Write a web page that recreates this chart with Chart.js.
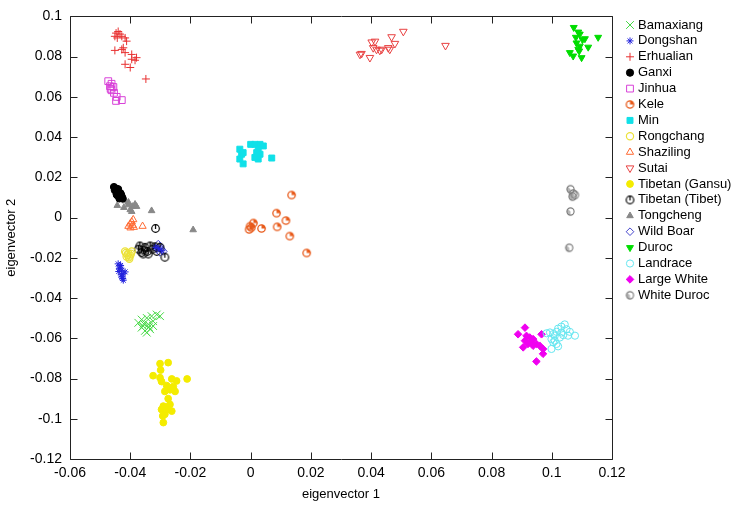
<!DOCTYPE html>
<html><head><meta charset="utf-8">
<script src="https://cdn.jsdelivr.net/npm/chart.js@4/dist/chart.umd.min.js"></script>
<style>html,body{margin:0;padding:0;background:#fff}#wrap{width:738px;height:506px;position:relative}</style>
</head><body><div id="wrap"><canvas id="c" width="738" height="506"></canvas></div>
<script>
// ---- data (eigenvector 1, eigenvector 2) ----
const bamaxiang = [[-0.0373,-0.0523],[-0.0362,-0.0507],[-0.0345,-0.0499],[-0.0329,-0.049],[-0.0312,-0.0482],[-0.0301,-0.049],[-0.0357,-0.0539],[-0.034,-0.0531],[-0.0324,-0.0539],[-0.0351,-0.0563],[-0.0334,-0.0555],[-0.0362,-0.0547],[-0.0324,-0.0515],[-0.0345,-0.0572],[-0.0355,-0.0528],[-0.0338,-0.0545]];
const dongshan = [[-0.044,-0.023],[-0.0434,-0.0246],[-0.0428,-0.0262],[-0.0423,-0.0279],[-0.0428,-0.0295],[-0.0423,-0.0311],[-0.0436,-0.0254],[-0.0417,-0.027],[-0.0432,-0.0238],[-0.0425,-0.0303],[-0.0438,-0.0268],[-0.043,-0.0285],[-0.0305,-0.0155],[-0.0295,-0.0165],[-0.0315,-0.0148]];
const erhualian = [[-0.0447,0.0917],[-0.044,0.0925],[-0.0434,0.0912],[-0.0451,0.0901],[-0.0443,0.0893],[-0.0428,0.0901],[-0.0417,0.0893],[-0.0412,0.0877],[-0.0423,0.0844],[-0.0428,0.0836],[-0.0451,0.0831],[-0.0417,0.082],[-0.0395,0.0811],[-0.0379,0.0795],[-0.0395,0.0787],[-0.0384,0.0782],[-0.0417,0.0762],[-0.04,0.0746],[-0.0348,0.0689]];
const ganxi = [[-0.0454,0.0152],[-0.0447,0.0144],[-0.0445,0.0131],[-0.044,0.012],[-0.0443,0.0111],[-0.0434,0.0108],[-0.0428,0.0103],[-0.0436,0.0095],[-0.0451,0.0136],[-0.0432,0.012],[-0.0425,0.0095],[-0.044,0.0141],[-0.0438,0.0126],[-0.0445,0.0115],[-0.043,0.0112]];
const jinhua = [[-0.0473,0.0678],[-0.0462,0.0665],[-0.0467,0.0653],[-0.0456,0.0649],[-0.0462,0.0633],[-0.0454,0.062],[-0.0445,0.06],[-0.0447,0.058],[-0.0428,0.0584],[-0.0465,0.064]];
const kele = [[0.0136,0.0112],[0.0086,0.0022],[0.0117,-0.0015],[0.0009,-0.0027],[-0.0002,-0.0043],[-0.0005,-0.0059],[0.0036,-0.0054],[0.0088,-0.0046],[0.013,-0.0092],[0.0186,-0.0176],[0.0002,-0.005]];
const minPig = [[-0.0036,0.034],[-0.003,0.0315],[-0.0036,0.0291],[-0.0025,0.0267],[0.0,0.0364],[0.0014,0.0364],[0.0031,0.0364],[0.0042,0.0356],[0.0025,0.034],[0.0031,0.0315],[0.0025,0.0291],[0.0014,0.0299],[0.007,0.0296],[-0.0025,0.0323],[0.002,0.0323]];
const rongchang = [[-0.0417,-0.0168],[-0.0406,-0.0178],[-0.0412,-0.0194],[-0.04,-0.0189],[-0.0395,-0.0168],[-0.0403,-0.0205],[-0.0409,-0.0185],[-0.0398,-0.018],[-0.0414,-0.0176],[-0.0404,-0.0197]];
const shaziling = [[-0.0406,-0.0043],[-0.04,-0.0031],[-0.0395,-0.0021],[-0.039,-0.001],[-0.0399,-0.0051],[-0.0392,-0.0038],[-0.0388,-0.0048],[-0.0359,-0.0043]];
const sutai = [[0.0363,0.0811],[0.0368,0.0815],[0.0396,0.0795],[0.0402,0.0872],[0.0413,0.0876],[0.0407,0.0844],[0.0418,0.0836],[0.0429,0.0831],[0.0435,0.0836],[0.0457,0.0844],[0.0462,0.0836],[0.0468,0.0898],[0.0479,0.0865],[0.0507,0.0925],[0.0647,0.0855]];
const tibetanGansu = [[-0.0301,-0.0726],[-0.0274,-0.0721],[-0.0299,-0.0758],[-0.0324,-0.0786],[-0.0301,-0.0796],[-0.0262,-0.0802],[-0.0246,-0.0812],[-0.0211,-0.0802],[-0.0296,-0.0815],[-0.0279,-0.0835],[-0.0257,-0.084],[-0.0268,-0.0856],[-0.0251,-0.0864],[-0.0285,-0.0864],[-0.0274,-0.09],[-0.029,-0.0937],[-0.0279,-0.0942],[-0.0268,-0.0929],[-0.0296,-0.0954],[-0.0262,-0.0962],[-0.0292,-0.0986],[-0.029,-0.1019],[-0.0285,-0.0978],[-0.0274,-0.0954]];
const tibetanTibet = [[-0.0316,-0.0054],[-0.0368,-0.0141],[-0.0373,-0.0157],[-0.0359,-0.0161],[-0.0351,-0.0148],[-0.0343,-0.0168],[-0.0334,-0.0141],[-0.0325,-0.0157],[-0.0318,-0.0145],[-0.0312,-0.0168],[-0.0301,-0.0148],[-0.0285,-0.0197],[-0.0357,-0.0181],[-0.034,-0.0181],[-0.0362,-0.0173]];
const tongcheng = [[-0.0329,0.0034],[-0.0191,-0.0061],[-0.0443,0.006],[-0.0421,0.005],[-0.0406,0.0063],[-0.04,0.0039],[-0.0392,0.0055],[-0.0384,0.0066],[-0.0379,0.0055],[-0.0406,0.0076],[-0.0417,0.0083],[-0.0395,0.003]];
const wildBoar = [[-0.0307,-0.0132],[-0.0301,-0.0141],[-0.0296,-0.0157],[-0.029,-0.0168],[-0.0301,-0.0173],[-0.0312,-0.0157]];
const duroc = [[0.1073,0.0945],[0.1088,0.0922],[0.1093,0.0912],[0.108,0.0896],[0.1102,0.0884],[0.111,0.0889],[0.1082,0.0868],[0.1093,0.0852],[0.1121,0.0847],[0.1154,0.0896],[0.1088,0.0836],[0.106,0.082],[0.1071,0.0803],[0.1099,0.0795],[0.1091,0.0828]];
const landrace = [[0.0983,-0.0575],[0.0994,-0.0571],[0.1005,-0.0579],[0.1016,-0.0568],[0.1021,-0.0552],[0.1032,-0.0542],[0.1043,-0.0531],[0.1049,-0.0555],[0.106,-0.0568],[0.1077,-0.0587],[0.1038,-0.0584],[0.1027,-0.0596],[0.101,-0.0587],[0.0999,-0.0604],[0.1005,-0.062],[0.1016,-0.0628],[0.1021,-0.064],[0.0999,-0.0653],[0.101,-0.0612],[0.1032,-0.0571],[0.1054,-0.0587]];
const largeWhite = [[0.0911,-0.0547],[0.0888,-0.058],[0.0916,-0.0588],[0.0927,-0.0596],[0.0938,-0.0604],[0.0932,-0.062],[0.0911,-0.0612],[0.0905,-0.0645],[0.0949,-0.0628],[0.0966,-0.058],[0.096,-0.0637],[0.0971,-0.0653],[0.0971,-0.0677],[0.0949,-0.0715],[0.0938,-0.0637],[0.0921,-0.0628]];
const whiteDuroc = [[0.1062,0.0141],[0.1071,0.012],[0.1069,0.0104],[0.1077,0.0112],[0.1062,0.003],[0.1058,-0.015]];

const xTickVals = [-0.06,-0.04,-0.02,0,0.02,0.04,0.06,0.08,0.1,0.12];
const xTickLabels = ['-0.06','-0.04','-0.02','0','0.02','0.04','0.06','0.08','0.1','0.12'];
const yTickVals = [-0.12,-0.1,-0.08,-0.06,-0.04,-0.02,0,0.02,0.04,0.06,0.08,0.1];
const yTickLabels = ['-0.12','-0.1','-0.08','-0.06','-0.04','-0.02','0','0.02','0.04','0.06','0.08','0.1'];

// ---- custom marker glyphs ----
function glyph(draw){const c=document.createElement('canvas');c.width=11;c.height=11;const g=c.getContext('2d');draw(g,5.5,5.5);return c;}
const keleGlyph = glyph((g,cx,cy)=>{g.strokeStyle='#e85a1a';g.fillStyle='#e85a1a';g.lineWidth=1.3;g.beginPath();g.arc(cx,cy,3.7,0,Math.PI*2);g.stroke();g.beginPath();g.moveTo(cx,cy);g.arc(cx,cy,3.7,-Math.PI/2,0);g.closePath();g.fill();});
const tibetGlyph = glyph((g,cx,cy)=>{g.strokeStyle='#000';g.lineWidth=1.2;g.beginPath();g.arc(cx,cy,3.8,0,Math.PI*2);g.stroke();g.beginPath();g.moveTo(cx,cy+0.5);g.lineTo(cx,cy-3.8);g.stroke();});
const wdGlyph = glyph((g,cx,cy)=>{g.fillStyle='#b5b5b5';g.beginPath();g.moveTo(cx,cy);g.arc(cx,cy,3.6,Math.PI*0.5,Math.PI*1.25);g.closePath();g.fill();g.strokeStyle='#777';g.lineWidth=1.1;g.beginPath();g.arc(cx,cy,3.6,0,Math.PI*2);g.stroke();});

const T='rgba(0,0,0,0)';
function ds(label,pts,style,fill,stroke,r,rot,bw){
  return {label,data:pts.map(p=>({x:p[0],y:p[1]})),pointStyle:style,backgroundColor:fill,borderColor:stroke,
    pointRadius:r,pointHoverRadius:r,pointRotation:rot||0,pointBorderWidth:bw===undefined?1:bw,showLine:false};
}
const datasets = [
  ds('Bamaxiang',bamaxiang,'crossRot',T,'#44d844',5.5,0,1),
  ds('Dongshan',dongshan,'star',T,'#2222dd',3.5,0,1),
  ds('Erhualian',erhualian,'cross',T,'#e83030',4,0,1),
  ds('Ganxi',ganxi,'circle','#000','#000',3.6,0,1),
  ds('Jinhua',jinhua,'rect',T,'#d840d8',4.8,0,1),
  ds('Kele',kele,keleGlyph,T,'#e85a1a',4,0,1),
  ds('Min',minPig,'rect','#10e0e8','#10e0e8',4.2,0,1),
  ds('Rongchang',rongchang,'circle',T,'#ece23a',3.6,0,1.2),
  ds('Shaziling',shaziling,'triangle',T,'#ff6a33',4.2,0,1),
  ds('Sutai',sutai,'triangle',T,'#e84040',4.4,180,1),
  ds('Tibetan (Gansu)',tibetanGansu,'circle','#f4ec00','#f4ec00',3.4,0,1),
  ds('Tibetan (Tibet)',tibetanTibet,tibetGlyph,T,'#000',4,0,1),
  ds('Tongcheng',tongcheng,'triangle','#888','#888',3.8,0,1),
  ds('Wild Boar',wildBoar,'rectRot',T,'#4444cc',3.8,0,1),
  ds('Duroc',duroc,'triangle','#00dd00','#00dd00',4,180,1),
  ds('Landrace',landrace,'circle',T,'#66e6f0',3.6,0,1),
  ds('Large White',largeWhite,'rectRot','#f000f0','#f000f0',3.8,0,1),
  ds('White Duroc',whiteDuroc,wdGlyph,T,'#777',4,0,1)
];

const FONT = '"Liberation Sans", Arial, Helvetica, sans-serif';

const frame = {
  id:'frame',
  afterDatasetsDraw(chart){
    const {ctx,chartArea:a,scales:{x,y}}=chart;
    ctx.save();ctx.strokeStyle='#222';ctx.lineWidth=1;
    const L=Math.round(a.left)+0.5,R=Math.round(a.right)+0.5,Tp=Math.round(a.top)+0.5,B=Math.round(a.bottom)+0.5;
    ctx.beginPath();ctx.rect(L,Tp,R-L,B-Tp);ctx.stroke();
    ctx.beginPath();
    x.ticks.forEach(t=>{const p=Math.round(x.getPixelForValue(t.value))+0.5;ctx.moveTo(p,B);ctx.lineTo(p,B-7);ctx.moveTo(p,Tp);ctx.lineTo(p,Tp+7);});
    y.ticks.forEach(t=>{const p=Math.round(y.getPixelForValue(t.value))+0.5;ctx.moveTo(L,p);ctx.lineTo(L+7,p);ctx.moveTo(R,p);ctx.lineTo(R-7,p);});
    ctx.stroke();ctx.restore();
  }
};
const legendPl = {
  id:'legendPl',
  afterDraw(chart){
    const ctx=chart.ctx;ctx.save();
    const a=chart.chartArea;
    const mx=a.right+18, tx=a.right+26, y0=25, step=15.9;
    chart.data.datasets.forEach((d,i)=>{
      const yy=y0+i*step;
      ctx.fillStyle=d.backgroundColor;ctx.strokeStyle=d.borderColor;ctx.lineWidth=d.pointBorderWidth;
      Chart.helpers.drawPoint(ctx,{pointStyle:d.pointStyle,radius:d.pointRadius,rotation:d.pointRotation,borderWidth:d.pointBorderWidth},mx,yy);
      ctx.fillStyle='#000';ctx.font='13px '+FONT;ctx.textBaseline='middle';ctx.textAlign='left';
      ctx.fillText(d.label,tx,yy);
    });
    ctx.restore();
  }
};

new Chart(document.getElementById('c'),{
  type:'scatter',
  data:{datasets},
  options:{
    responsive:false,animation:false,devicePixelRatio:1,
    layout:{padding:{left:0,right:126,top:8,bottom:0}},
    plugins:{legend:{display:false},tooltip:{enabled:false}},
    scales:{
      x:{type:'linear',min:-0.06,max:0.12,
        afterBuildTicks:s=>{s.ticks=xTickVals.map(v=>({value:v}));},
        ticks:{callback:(v,i)=>xTickLabels[i],font:{family:FONT,size:14},color:'#000',padding:6,maxRotation:0,autoSkip:false},
        grid:{display:false,drawTicks:false},border:{display:false},
        title:{display:true,text:'eigenvector 1',font:{family:FONT,size:13},color:'#000',padding:{top:4,bottom:4}},
        afterFit:s=>{s.height=47;}},
      y:{type:'linear',min:-0.12,max:0.1,
        afterBuildTicks:s=>{s.ticks=yTickVals.map(v=>({value:v}));},
        ticks:{callback:(v,i)=>yTickLabels[i],font:{family:FONT,size:14},color:'#000',padding:8,autoSkip:false},
        grid:{display:false,drawTicks:false},border:{display:false},
        title:{display:true,text:'eigenvector 2',font:{family:FONT,size:13},color:'#000',padding:{top:4,bottom:4}},
        afterFit:s=>{s.width=70;}}
    }
  },
  plugins:[frame,legendPl]
});
</script></body></html>
